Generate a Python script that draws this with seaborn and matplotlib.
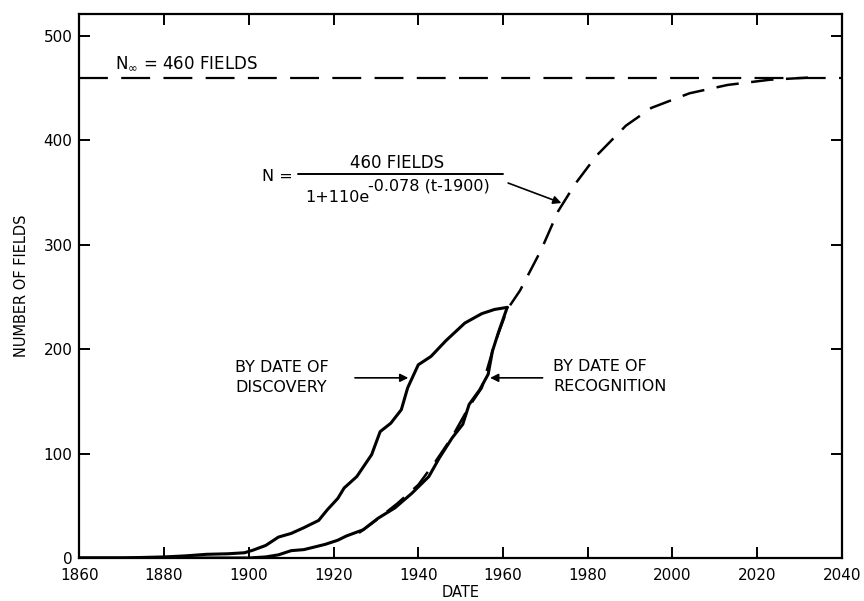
import matplotlib
matplotlib.use("Agg")
import matplotlib.pyplot as plt
import numpy as np
import pandas as pd
import seaborn as sns

# values
discovery_years = [1860, 1870, 1880, 1885, 1890, 1895, 1899, 1901, 1904, 1907, 1910, 1913,
                   1916.5, 1918.5, 1921, 1922.5, 1925.5, 1929, 1931, 1933.5, 1936, 1937.5,
                   1940, 1943, 1946.5, 1951, 1955, 1958, 1961]
discovery_counts = [0, 0, 1, 2, 3.5, 4, 5, 7.5, 12, 20, 23.5, 29,
                    36, 46, 57, 67, 78, 99, 121, 129, 142, 163,
                    185, 193, 208, 225, 234, 238, 240]

recognition_years = [1860, 1900, 1904, 1907, 1910, 1913, 1915, 1918, 1921, 1923, 1927, 1930.5,
                     1934.5, 1938.5, 1942.5, 1945, 1948, 1950.5, 1952, 1954.5, 1956.5, 1957.5,
                     1959, 1961]
recognition_counts = [0, 0, 1, 3, 7, 8, 10, 13, 17, 21, 27, 38,
                      48, 62, 78, 96, 115, 128, 147, 161, 176, 198,
                      217, 240]

logistic_years = [1926, 1930, 1935, 1940, 1944, 1948, 1952, 1955, 1958, 1961, 1964, 1969,
                  1973, 1977, 1982, 1989, 1995, 2004, 2013, 2023, 2032]
logistic_counts = [24, 36, 52, 70, 92, 116, 145, 163, 205, 238, 256, 295,
                   332, 358, 385, 414, 431, 445, 453, 458, 460]

n_infinity = 460
x_ticks = [1860, 1880, 1900, 1920, 1940, 1960, 1980, 2000, 2020, 2040]
y_ticks = [0, 100, 200, 300, 400, 500]

sns.set_theme(style="ticks", rc={"text.color": "black", "axes.labelcolor": "black"})
plt.rcParams["font.family"] = ["DejaVu Sans"]

fig = plt.figure(figsize=(8.64, 6.01), dpi=100)
ax = fig.add_axes([0.0918, 0.0716, 0.8827, 0.9052])

disc = pd.DataFrame({"year": discovery_years, "fields": discovery_counts})
recog = pd.DataFrame({"year": recognition_years, "fields": recognition_counts})
logi = pd.DataFrame({"year": logistic_years, "fields": logistic_counts})

sns.lineplot(data=logi, x="year", y="fields", ax=ax, color="black", lw=1.8,
             linestyle=(0, (9, 5)))
sns.lineplot(data=disc, x="year", y="fields", ax=ax, color="black", lw=2.2)
sns.lineplot(data=recog, x="year", y="fields", ax=ax, color="black", lw=2.2)
ax.axhline(n_infinity, color="black", lw=1.6, linestyle=(0, (13, 6)))

ax.set_xlim(1860, 2040)
ax.set_ylim(0, 521)
ax.set_xticks(x_ticks)
ax.set_yticks(y_ticks)
ax.tick_params(direction="in", length=8, width=1.4, top=True, right=True,
               labelsize=11, colors="black")
ax.tick_params(axis="x", pad=7)
ax.tick_params(axis="y", pad=5)
for s in ax.spines.values():
    s.set_visible(True)
    s.set_linewidth(1.6)
    s.set_color("black")

ax.set_xlabel("DATE", fontsize=10.5, labelpad=2)
ax.set_ylabel("NUMBER OF FIELDS", fontsize=10.5, labelpad=10)

ax.text(1868.5, 474, r"N$_{\infty}$ = 460 FIELDS", fontsize=12, va="center", ha="left")

# formula
ax.text(1903.1, 365, "N =", fontsize=11.5, va="center", ha="left")
ax.text(1935.0, 378, "460 FIELDS", fontsize=12, va="center", ha="center")
ax.plot([1911.6, 1960.0], [367.5, 367.5], color="black", lw=1.4)
ax.text(1913.4, 345, "1+110e", fontsize=11.5, va="center", ha="left")
ax.text(1928.1, 356, "-0.078 (t-1900)", fontsize=11.5, va="center", ha="left")
arrow = dict(arrowstyle="-|>", color="black", lw=1.2, mutation_scale=12)
ax.annotate("", xy=(1974.4, 339), xytext=(1960.6, 360), arrowprops=arrow)

ax.text(1896.8, 173, "BY DATE OF\nDISCOVERY", fontsize=11.5, va="center", ha="left",
        linespacing=1.4)
ax.annotate("", xy=(1938.3, 172.5), xytext=(1924.4, 172.5), arrowprops=arrow)

ax.text(1971.8, 174, "BY DATE OF\nRECOGNITION", fontsize=11.5, va="center", ha="left",
        linespacing=1.4)
ax.annotate("", xy=(1956.3, 172.5), xytext=(1970.0, 172.5), arrowprops=arrow)

fig.savefig("out.png", dpi=100)
